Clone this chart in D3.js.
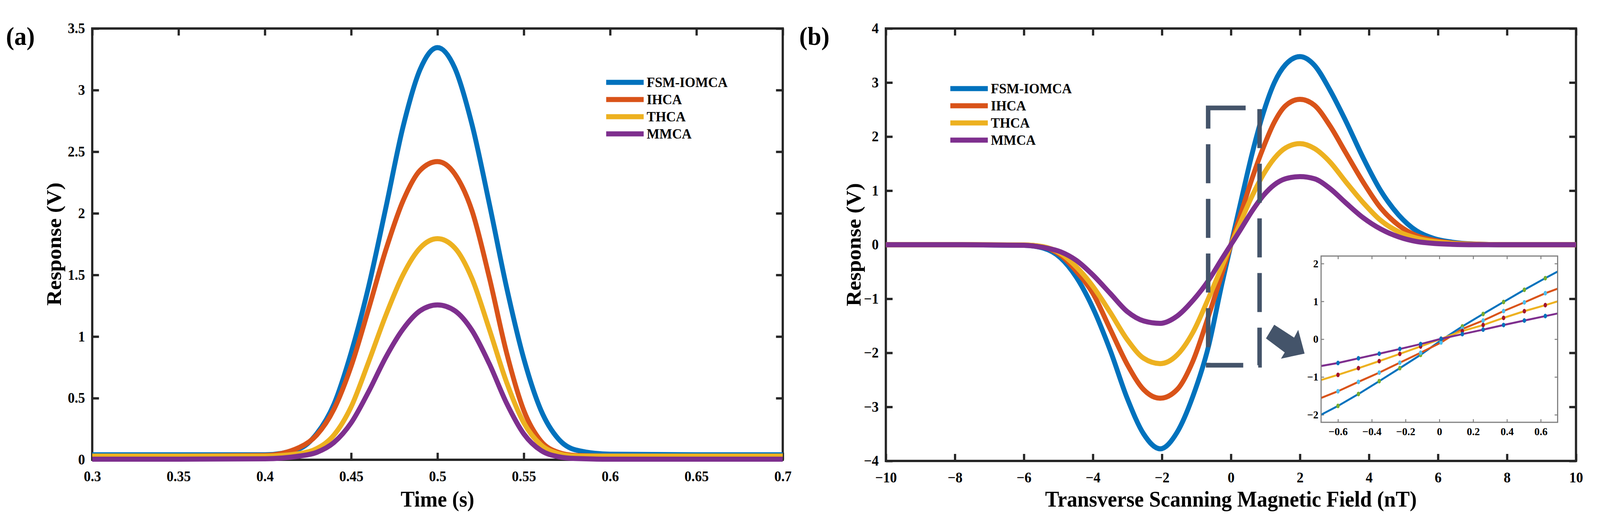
<!DOCTYPE html>
<html>
<head>
<meta charset="utf-8">
<script src="https://cdn.jsdelivr.net/npm/d3@7"></script>
<style>
  html, body { margin: 0; padding: 0; background: #fff; overflow: hidden; }
  #chart { display: block; width: 100vw; height: 100vh; }
  svg text { font-family: "Liberation Serif", "Times New Roman", serif; fill: #000; }
  .frame .tick line { stroke: #262626; stroke-width: 6; }
  .frame .tick text { font-size: 37px; font-weight: bold; }
  .frame .domain { display: none; }
  .inset .tick line { stroke: #7f7f7f; stroke-width: 2.5; }
  .inset .tick text { font-size: 28px; font-weight: bold; }
  .inset .domain { display: none; }
  .title { font-size: 56px; font-weight: bold; }
  .panel { font-size: 66px; font-weight: bold; }
  .legend text { font-size: 36px; font-weight: bold; }
</style>
</head>
<body>
<svg id="chart" viewBox="0 0 4268 1340" preserveAspectRatio="none"></svg>
<script>
// ---------- data ----------
var seriesNames  = ["FSM-IOMCA", "IHCA", "THCA", "MMCA"];
var seriesColors = ["#0072BD", "#D95319", "#EDB120", "#7E2F8E"];
var markerColors = ["#77AC30", "#4DBEEE", "#A2142F", "#0072BD"];

// (a) response vs time
var timeX   = [0.30, 0.35, 0.40, 0.42, 0.43, 0.44, 0.45, 0.46, 0.47, 0.48, 0.49, 0.50, 0.51, 0.52, 0.53, 0.54, 0.55, 0.56, 0.57, 0.58, 0.60, 0.65, 0.70];
var timeFSM = [0.04, 0.04, 0.04, 0.09, 0.21, 0.45, 0.87, 1.40, 2.04, 2.70, 3.17, 3.345, 3.18, 2.72, 2.08, 1.40, 0.82, 0.40, 0.17, 0.08, 0.045, 0.04, 0.04];
var timeIH  = [0.03, 0.03, 0.035, 0.10, 0.20, 0.41, 0.76, 1.22, 1.70, 2.10, 2.35, 2.42, 2.32, 2.02, 1.48, 0.87, 0.40, 0.15, 0.06, 0.035, 0.03, 0.03, 0.03];
var timeTH  = [0.03, 0.03, 0.03, 0.05, 0.09, 0.20, 0.43, 0.79, 1.17, 1.50, 1.72, 1.794, 1.72, 1.47, 1.06, 0.63, 0.30, 0.12, 0.05, 0.03, 0.03, 0.03, 0.03];
var timeMM  = [0.005, 0.005, 0.008, 0.03, 0.06, 0.14, 0.30, 0.55, 0.83, 1.06, 1.21, 1.257, 1.21, 1.05, 0.78, 0.46, 0.21, 0.075, 0.025, 0.01, 0.005, 0.005, 0.005];
var timeXTicks = [0.3, 0.35, 0.4, 0.45, 0.5, 0.55, 0.6, 0.65, 0.7];
var timeYTicks = [0, 0.5, 1, 1.5, 2, 2.5, 3, 3.5];

// (b) response vs transverse field
var fieldX   = [-10, -8, -6, -5.45, -4.94, -4.48, -4.0, -3.5, -3.0, -2.53, -2.05, -1.56, -1.1, -0.65, -0.26, 0, 0.26, 0.62, 0.94, 1.26, 1.58, 2.0, 2.42, 2.87, 3.32, 3.83, 4.34, 4.86, 5.37, 5.89, 6.4, 7.04, 8, 10];
var fieldFSM = [0, 0, -0.01, -0.06, -0.24, -0.60, -1.17, -1.95, -2.85, -3.50, -3.776, -3.47, -2.80, -1.88, -0.72, 0, 0.72, 1.70, 2.44, 3.00, 3.33, 3.48, 3.32, 2.86, 2.30, 1.61, 1.0, 0.55, 0.26, 0.113, 0.048, 0.013, 0, 0];
var fieldIH  = [0, 0, -0.005, -0.04, -0.19, -0.49, -0.90, -1.56, -2.22, -2.68, -2.84, -2.68, -2.15, -1.32, -0.54, 0, 0.52, 1.24, 1.80, 2.27, 2.57, 2.69, 2.58, 2.20, 1.71, 1.16, 0.68, 0.36, 0.17, 0.08, 0.033, 0.01, 0, 0];
var fieldTH  = [0, 0, -0.005, -0.035, -0.16, -0.41, -0.77, -1.25, -1.76, -2.10, -2.2, -2.04, -1.62, -0.99, -0.40, 0, 0.39, 0.91, 1.30, 1.60, 1.79, 1.87, 1.78, 1.53, 1.17, 0.78, 0.45, 0.24, 0.125, 0.058, 0.025, 0.006, 0, 0];
var fieldMM  = [0, 0, -0.01, -0.05, -0.13, -0.29, -0.56, -0.90, -1.24, -1.41, -1.454, -1.32, -1.03, -0.66, -0.26, 0, 0.26, 0.63, 0.91, 1.11, 1.22, 1.26, 1.22, 1.04, 0.78, 0.50, 0.29, 0.145, 0.06, 0.024, 0.008, 0, 0, 0];
var fieldXTicks = [-10, -8, -6, -4, -2, 0, 2, 4, 6, 8, 10];
var fieldYTicks = [-4, -3, -2, -1, 0, 1, 2, 3, 4];
var zoomBox = {x: [-0.66, 0.83], y: [-2.23, 2.53]};   // region shown in the inset

// inset: linear region near zero (first and last points are the line ends, the rest carry markers)
var insetX   = [-0.7, -0.6, -0.479, -0.356, -0.234, -0.111, 0.01, 0.136, 0.259, 0.38, 0.503, 0.627, 0.7];
var insetFSM = [-2.0, -1.767, -1.452, -1.111, -0.767, -0.415, -0.03, 0.337, 0.667, 0.985, 1.307, 1.615, 1.79];
var insetIH  = [-1.556, -1.378, -1.13, -0.885, -0.622, -0.359, -0.089, 0.27, 0.493, 0.744, 0.974, 1.215, 1.337];
var insetTH  = [-1.08, -0.944, -0.767, -0.581, -0.389, -0.193, 0.01, 0.215, 0.374, 0.563, 0.741, 0.9, 1.0];
var insetMM  = [-0.71, -0.63, -0.507, -0.385, -0.259, -0.13, 0.01, 0.133, 0.252, 0.374, 0.493, 0.611, 0.68];
var insetXTicks = [-0.6, -0.4, -0.2, 0, 0.2, 0.4, 0.6];
var insetYTicks = [-2, -1, 0, 1, 2];

// ---------- layout ----------
var svg = d3.select("#chart");
var A = {x0: 246, x1: 2088, y0: 73, y1: 1178};
var B = {x0: 2363, x1: 4204, y0: 73, y1: 1181};
var IN = {x0: 3524, x1: 4155, y0: 656, y1: 1082};

function fmt(d) { return String(+d.toFixed(2)).replace("-", "\u2212"); }

function frame(box, x, y, xt, yt) {
  var g = svg.append("g").attr("class", "frame");
  g.append("g").attr("transform", "translate(0," + box.y1 + ")")
    .call(d3.axisBottom(x).tickValues(xt).tickFormat(fmt).tickSizeInner(-18).tickSizeOuter(0).tickPadding(29));
  g.append("g").attr("transform", "translate(0," + box.y0 + ")")
    .call(d3.axisTop(x).tickValues(xt).tickFormat("").tickSizeInner(-18).tickSizeOuter(0));
  g.append("g").attr("transform", "translate(" + box.x0 + ",0)")
    .call(d3.axisLeft(y).tickValues(yt).tickFormat(fmt).tickSizeInner(-18).tickSizeOuter(0).tickPadding(19));
  g.append("g").attr("transform", "translate(" + box.x1 + ",0)")
    .call(d3.axisRight(y).tickValues(yt).tickFormat("").tickSizeInner(-18).tickSizeOuter(0));
  g.append("rect").attr("x", box.x0).attr("y", box.y0)
    .attr("width", box.x1 - box.x0).attr("height", box.y1 - box.y0)
    .attr("fill", "none").attr("stroke", "#262626").attr("stroke-width", 6);
}

function curves(xs, ys, x, y, width) {
  var line = d3.line().x(function (d) { return x(d[0]); }).y(function (d) { return y(d[1]); })
    .curve(d3.curveMonotoneX);
  ys.forEach(function (s, i) {
    svg.append("path").datum(xs.map(function (v, k) { return [v, s[k]]; }))
      .attr("d", line).attr("fill", "none")
      .attr("stroke", seriesColors[i]).attr("stroke-width", width);
  });
}

function legend(x, y, dy) {
  var g = svg.append("g").attr("class", "legend");
  seriesNames.forEach(function (n, i) {
    var yy = y + i * dy;
    g.append("line").attr("x1", x).attr("x2", x + 100).attr("y1", yy).attr("y2", yy)
      .attr("stroke", seriesColors[i]).attr("stroke-width", 13);
    g.append("text").attr("x", x + 108).attr("y", yy + 12).text(n);
  });
}

// ---------- (a) ----------
var xa = d3.scaleLinear().domain([0.3, 0.7]).range([A.x0, A.x1]);
var ya = d3.scaleLinear().domain([0, 3.5]).range([A.y1, A.y0]);
frame(A, xa, ya, timeXTicks, timeYTicks);
curves(timeX, [timeFSM, timeIH, timeTH, timeMM], xa, ya, 13);
legend(1617, 211, 44);
svg.append("text").attr("class", "panel").attr("x", 16).attr("y", 115).text("(a)");
svg.append("text").attr("class", "title").attr("x", (A.x0 + A.x1) / 2).attr("y", 1298)
  .attr("text-anchor", "middle").text("Time (s)");
svg.append("text").attr("class", "title").attr("text-anchor", "middle")
  .attr("transform", "translate(163," + (A.y0 + A.y1) / 2 + ") rotate(-90)").text("Response (V)");

// ---------- (b) ----------
var xb = d3.scaleLinear().domain([-10, 10]).range([B.x0, B.x1]);
var yb = d3.scaleLinear().domain([-4, 4]).range([B.y1, B.y0]);
frame(B, xb, yb, fieldXTicks, fieldYTicks);
curves(fieldX, [fieldFSM, fieldIH, fieldTH, fieldMM], xb, yb, 13);
legend(2535, 227, 44);
svg.append("text").attr("class", "panel").attr("x", 2132).attr("y", 115).text("(b)");
svg.append("text").attr("class", "title").attr("x", (B.x0 + B.x1) / 2).attr("y", 1298)
  .attr("text-anchor", "middle").text("Transverse Scanning Magnetic Field (nT)");
svg.append("text").attr("class", "title").attr("text-anchor", "middle")
  .attr("transform", "translate(2295," + (B.y0 + B.y1) / 2 + ") rotate(-90)").text("Response (V)");

// dashed zoom box
svg.append("rect")
  .attr("x", xb(zoomBox.x[0])).attr("y", yb(zoomBox.y[1]))
  .attr("width", xb(zoomBox.x[1]) - xb(zoomBox.x[0]))
  .attr("height", yb(zoomBox.y[0]) - yb(zoomBox.y[1]))
  .attr("fill", "none").attr("stroke", "#44546A").attr("stroke-width", 12)
  .attr("stroke-dasharray", "100 40");

// block arrow pointing at the inset
var arrowPts = [[22, 0], [75, 33], [86, 13], [103, 74], [40, 87], [50, 71], [0, 35]];
svg.append("polygon")
  .attr("transform", "translate(" + (IN.x0 - 147) + "," + (IN.y0 + 176) + ")")
  .attr("points", arrowPts.map(function (p) { return p.join(","); }).join(" "))
  .attr("fill", "#44546A");

// ---------- inset ----------
var xi = d3.scaleLinear().domain([-0.7, 0.7]).range([IN.x0, IN.x1]);
var yi = d3.scaleLinear().domain([-2.2, 2.2]).range([IN.y1, IN.y0]);
var gi = svg.append("g").attr("class", "inset");
gi.append("rect").attr("x", IN.x0).attr("y", IN.y0)
  .attr("width", IN.x1 - IN.x0).attr("height", IN.y1 - IN.y0).attr("fill", "#fff");
gi.append("g").attr("transform", "translate(0," + IN.y1 + ")")
  .call(d3.axisBottom(xi).tickValues(insetXTicks).tickFormat(fmt).tickSizeInner(-8).tickSizeOuter(0).tickPadding(13));
gi.append("g").attr("transform", "translate(0," + IN.y0 + ")")
  .call(d3.axisTop(xi).tickValues(insetXTicks).tickFormat("").tickSizeInner(-8).tickSizeOuter(0));
gi.append("g").attr("transform", "translate(" + IN.x0 + ",0)")
  .call(d3.axisLeft(yi).tickValues(insetYTicks).tickFormat(fmt).tickSizeInner(-8).tickSizeOuter(0).tickPadding(7));
gi.append("g").attr("transform", "translate(" + IN.x1 + ",0)")
  .call(d3.axisRight(yi).tickValues(insetYTicks).tickFormat("").tickSizeInner(-8).tickSizeOuter(0));

var iline = d3.line().x(function (d) { return xi(d[0]); }).y(function (d) { return yi(d[1]); });
[insetFSM, insetIH, insetTH, insetMM].forEach(function (s, i) {
  var pts = insetX.map(function (v, k) { return [v, s[k]]; });
  gi.append("path").datum(pts).attr("d", iline).attr("fill", "none")
    .attr("stroke", seriesColors[i]).attr("stroke-width", 5);
  gi.selectAll(null).data(pts.slice(1, -1)).enter().append("ellipse")
    .attr("cx", function (d) { return xi(d[0]); }).attr("cy", function (d) { return yi(d[1]); })
    .attr("rx", 4.5).attr("ry", 6).attr("fill", markerColors[i]);
});
gi.append("rect").attr("x", IN.x0).attr("y", IN.y0)
  .attr("width", IN.x1 - IN.x0).attr("height", IN.y1 - IN.y0)
  .attr("fill", "none").attr("stroke", "#7f7f7f").attr("stroke-width", 3);
</script>
</body>
</html>
